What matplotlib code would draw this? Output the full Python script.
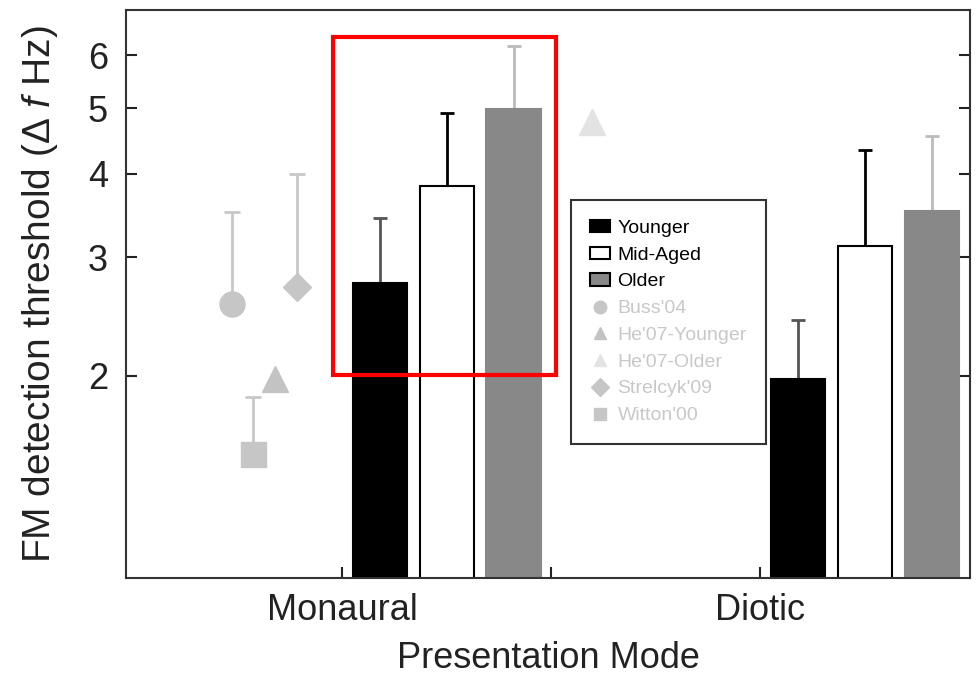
import matplotlib.pyplot as plt
from matplotlib.patches import Patch, Rectangle
from matplotlib.lines import Line2D
from matplotlib.ticker import FixedLocator, NullLocator, ScalarFormatter

plt.rcParams['font.family'] = ['Liberation Sans', 'DejaVu Sans']
plt.rcParams['mathtext.fontset'] = 'custom'
plt.rcParams['mathtext.rm'] = 'Liberation Sans'
plt.rcParams['mathtext.it'] = 'Liberation Sans:italic'

# Mean thresholds (Hz) and upper error bars for the three age groups
categories = ['Monaural', 'Diotic']
groups = ['Younger', 'Mid-Aged', 'Older']
younger = [2.75, 1.98]
younger_err = [0.68, 0.44]
mid_aged = [3.83, 3.12]
mid_aged_err = [1.09, 1.21]
older = [4.99, 3.52]
older_err = [1.20, 1.03]

# Earlier studies (monaural only)
studies = ["Buss'04", "He'07-Younger", "He'07-Older", "Strelcyk'09", "Witton'00"]
study_vals = [2.56, 1.98, 4.77, 2.71, 1.53]
study_err = [0.94, 0.0, 0.0, 1.29, 0.33]

# styling
study_x = [0.737, 0.840, 1.598, 0.892, 0.787]
study_markers = ['o', '^', '^', 'D', 's']
study_sizes = [18, 19, 19, 14, 18]
study_colors = ['#c6c6c6', '#c3c3c3', '#e3e3e3', '#c6c6c6', '#c6c6c6']
bar_offsets = [0.09, 0.25, 0.41]
bar_width = 0.13
bar_faces = ['black', 'white', '#888888']
bar_edges = ['black', 'black', '#888888']
err_colors = ['#555555', 'black', '#bbbbbb']

fig = plt.figure(figsize=(9.77, 6.77), dpi=100)
ax = fig.add_axes([0.129, 0.146, 0.864, 0.839])
ax.set_yscale('log')

xs = [1, 2]
series = [(younger, younger_err), (mid_aged, mid_aged_err), (older, older_err)]
for k, (vals, errs) in enumerate(series):
    pos = [x + bar_offsets[k] for x in xs]
    ax.bar(pos, vals, width=bar_width, color=bar_faces[k],
           edgecolor=bar_edges[k], linewidth=1.5, zorder=2)
    ax.errorbar(pos, vals, yerr=[[0] * len(vals), errs], fmt='none',
                ecolor=err_colors[k], elinewidth=2, capsize=5, capthick=2,
                zorder=1)

for i in range(len(studies)):
    if study_err[i] > 0:
        ax.errorbar([study_x[i]], [study_vals[i]],
                    yerr=[[0], [study_err[i]]], fmt='none',
                    ecolor='#c8c8c8', elinewidth=2, capsize=6, capthick=2,
                    zorder=1)
    ax.plot(study_x[i], study_vals[i], marker=study_markers[i],
            ms=study_sizes[i], color=study_colors[i], linestyle='none',
            zorder=3)

ax.set_xlim(0.483, 2.502)
ax.set_ylim(1, 7)
ax.yaxis.set_major_locator(FixedLocator([2, 3, 4, 5, 6]))
ax.yaxis.set_minor_locator(NullLocator())
ax.yaxis.set_major_formatter(ScalarFormatter())
ax.set_xticks(xs)
ax.set_xticklabels(categories)
ax.set_xticks([1.5], minor=True)

ax.tick_params(axis='y', which='both', direction='in', length=8, width=1.5,
               labelsize=26, pad=13, right=True, colors='#222222')
ax.tick_params(axis='x', which='both', direction='in', length=8, width=1.5,
               labelsize=26, pad=11, colors='#222222')
for s in ax.spines.values():
    s.set_linewidth(1.5)
    s.set_color('#333333')

ax.set_ylabel(r'FM detection threshold ($\Delta$ $\it{f}$ Hz)', fontsize=28,
              color='#222222', labelpad=20)
ax.set_xlabel('Presentation Mode', fontsize=26, color='#222222', labelpad=9)

handles = [Patch(facecolor=bar_faces[k], edgecolor='black', linewidth=1.5)
           for k in range(3)]
for i in range(len(studies)):
    handles.append(Line2D([], [], marker=study_markers[i], ms=9,
                          color=study_colors[i], linestyle='none'))
leg = ax.legend(handles, groups + studies, loc='upper left',
                bbox_to_anchor=(0.527, 0.665), borderaxespad=0, fontsize=14,
                frameon=True, fancybox=False, edgecolor='#333333',
                handlelength=1.0, handleheight=0.6, handletextpad=0.4,
                labelspacing=0.5, borderpad=1.0, framealpha=1)
leg.get_frame().set_linewidth(1.5)
leg.set_zorder(6)
for t in leg.get_texts()[3:]:
    t.set_color('#c8c8c8')

# highlight box around the monaural bars
ax.add_patch(Rectangle((0.978, 2.007), 1.512 - 0.978, 6.38 - 2.007,
                       fill=False, edgecolor='red', linewidth=3,
                       transform=ax.transData, clip_on=False, zorder=5))

fig.savefig('out.png', dpi=100)
